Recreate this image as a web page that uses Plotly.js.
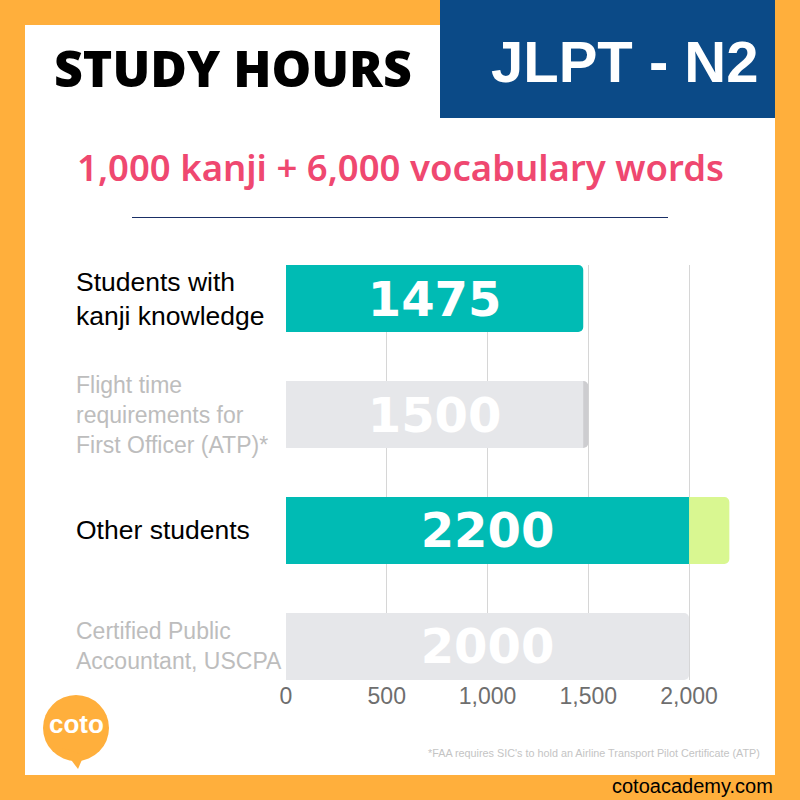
<!DOCTYPE html>
<html>
<head>
<meta charset="utf-8">
<script src="https://cdn.plot.ly/plotly-3.0.1.min.js"></script>
<style>html,body{margin:0;padding:0;background:#FFAF3C;}#chart{width:800px;height:800px;}</style>
</head>
<body>
<div id="chart"></div>
<script>
// ---- data ----
const categories = ["Students with<br>kanji knowledge", "Flight time<br>requirements for<br>First Officer (ATP)*", "Other students", "Certified Public<br>Accountant, USCPA"];
const totals = [1475, 1500, 2200, 2000];
const splitAt = [null, 1475, 2000, null];   // where the bar colour changes
const tickVals = [0, 500, 1000, 1500, 2000];
const tickText = ["0", "500", "1,000", "1,500", "2,000"];
const highlighted = [true, false, true, false];

// ---- styles ----
const ORANGE = "#FFAF3C", BLUE = "#0B4A87", TEAL = "#00BBB4", GRAY = "#E6E7EA",
      DARKGRAY = "#CDCDD0", LIME = "#D9F791", PINK = "#EF4870";
const P = (x, y) => ({x: x / 800, y: 1 - y / 800});
const catIdx = categories.map((c, i) => i);
const baseColor = i => highlighted[i] ? TEAL : GRAY;
const tipColor = i => highlighted[i] ? LIME : DARKGRAY;
const barFont = {family: "DejaVu Sans", size: 48, color: "#FFFFFF", weight: 700};

const traces = [
  {
    type: "bar", orientation: "h", y: catIdx, x: totals,
    marker: {color: catIdx.map(i => splitAt[i] === null ? baseColor(i) : tipColor(i)), cornerradius: 5},
    text: catIdx.map(i => splitAt[i] === null ? String(totals[i]) : ""),
    textposition: "inside", insidetextanchor: "middle", constraintext: "none",
    textfont: barFont, hoverinfo: "skip"
  },
  {
    type: "bar", orientation: "h", y: catIdx, x: splitAt,
    marker: {color: catIdx.map(baseColor)},
    text: catIdx.map(i => splitAt[i] === null ? "" : String(totals[i])),
    textposition: "inside", insidetextanchor: "middle", constraintext: "none",
    textfont: barFont, hoverinfo: "skip"
  }
];

const annotations = [];
function txt(x, y, text, font, xanchor) {
  const p = P(x, y);
  annotations.push({xref: "paper", yref: "paper", x: p.x, y: p.y, text: text,
    showarrow: false, xanchor: xanchor || "center", yanchor: "middle", font: font});
}
txt(233, 68, "STUDY HOURS", {family: "Open Sans", size: 50, color: "#000000", weight: 800});
txt(625, 61, "JLPT - N2", {family: "Liberation Sans", size: 58, color: "#FFFFFF", weight: 700});
txt(400, 167, "1,000 kanji + 6,000 vocabulary words", {family: "Noto Sans", size: 36.5, color: PINK, weight: 600});
txt(762, 753, "*FAA requires SIC's to hold an Airline Transport Pilot Certificate (ATP)", {family: "Liberation Sans", size: 10.8, color: "#C4C4C4"}, "right");
txt(775, 786, "cotoacademy.com", {family: "Liberation Sans", size: 20, color: "#000000"}, "right");
txt(76, 724, "coto", {family: "Liberation Sans", size: 26, color: "#FFFFFF", weight: 700});

categories.forEach((c, i) => {
  annotations.push({
    xref: "paper", yref: "y", x: 74 / 800, y: i, text: c, showarrow: false,
    xanchor: "left", yanchor: "middle", align: "left",
    font: highlighted[i] ? {family: "Liberation Sans", size: 26.5, color: "#000000"}
                         : {family: "Liberation Sans", size: 23, color: "#BDBDBD"}
  });
});

function rect(x0, y0, x1, y1, color) {
  const a = P(x0, y0), b = P(x1, y1);
  return {type: "rect", xref: "paper", yref: "paper", x0: a.x, y0: a.y, x1: b.x, y1: b.y,
    fillcolor: color, line: {width: 0}, layer: "below"};
}
function pathPx(pts, color) {
  const d = pts.map((p, i) => (i ? "L" : "M") + (p[0] / 800) + "," + (1 - p[1] / 800)).join(" ") + " Z";
  return {type: "path", xref: "paper", yref: "paper", path: d, fillcolor: color, line: {width: 0}, layer: "below"};
}
const shapes = [
  rect(25, 25, 775, 775, "#FFFFFF"),
  rect(440, 0, 775, 118, BLUE),
  {type: "line", xref: "paper", yref: "paper", x0: 132 / 800, x1: 668 / 800, y0: 1 - 217.5 / 800, y1: 1 - 217.5 / 800,
   line: {color: "#1A2F66", width: 1}, layer: "below"},
  {type: "circle", xref: "paper", yref: "paper", x0: 43 / 800, x1: 109 / 800, y0: 1 - 695 / 800, y1: 1 - 761 / 800,
   fillcolor: ORANGE, line: {width: 0}, layer: "below"},
  pathPx([[62, 748], [78, 769], [84, 755]], ORANGE)
];

const layout = {
  width: 800, height: 800,
  margin: {l: 0, r: 0, t: 0, b: 0},
  paper_bgcolor: ORANGE, plot_bgcolor: "rgba(0,0,0,0)",
  showlegend: false, barmode: "overlay", bargap: 0.422,
  xaxis: {
    domain: [286 / 800, 749.5 / 800], range: [0, 2300],
    tickvals: tickVals, ticktext: tickText, ticks: "",
    showgrid: true, gridcolor: "#D6D6D6", gridwidth: 1, zeroline: false, showline: false,
    tickfont: {family: "Liberation Sans", size: 23, color: "#6E6E6E"}, fixedrange: true
  },
  yaxis: {
    domain: [120 / 800, 535 / 800], range: [3.289, -0.289],
    showticklabels: false, showgrid: false, zeroline: false, showline: false, ticks: "", fixedrange: true
  },
  shapes: shapes,
  annotations: annotations
};

Plotly.newPlot("chart", traces, layout, {displayModeBar: false, staticPlot: true});
</script>
</body>
</html>
